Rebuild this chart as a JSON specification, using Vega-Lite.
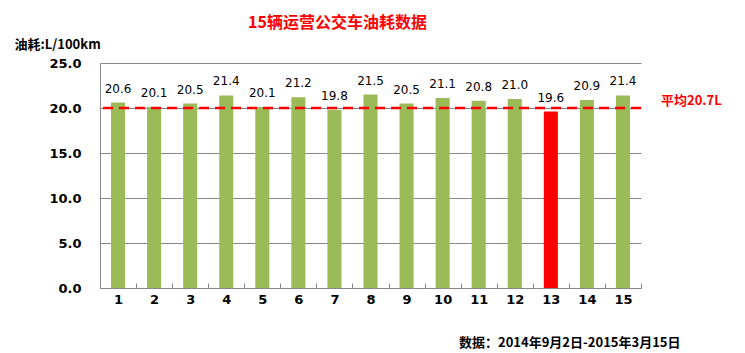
{
  "$schema": "https://vega.github.io/schema/vega-lite/v6.json",
  "width": 541,
  "height": 225,
  "autosize": {"type": "none"},
  "padding": {"left": 100, "top": 63, "right": 104, "bottom": 65},
  "background": "white",
  "title": {
    "text": "15辆运营公交车油耗数据",
    "color": "#FF0000",
    "font": "Noto Sans CJK SC",
    "fontSize": 16,
    "fontWeight": "bold",
    "anchor": "start",
    "dx": 234,
    "offset": 7
  },
  "config": {
    "view": {"stroke": null},
    "font": "DejaVu Sans"
  },
  "data": {
    "values": [
      {"bus": "1", "fuel": 20.6, "type": "normal"},
      {"bus": "2", "fuel": 20.1, "type": "normal"},
      {"bus": "3", "fuel": 20.5, "type": "normal"},
      {"bus": "4", "fuel": 21.4, "type": "normal"},
      {"bus": "5", "fuel": 20.1, "type": "normal"},
      {"bus": "6", "fuel": 21.2, "type": "normal"},
      {"bus": "7", "fuel": 19.8, "type": "normal"},
      {"bus": "8", "fuel": 21.5, "type": "normal"},
      {"bus": "9", "fuel": 20.5, "type": "normal"},
      {"bus": "10", "fuel": 21.1, "type": "normal"},
      {"bus": "11", "fuel": 20.8, "type": "normal"},
      {"bus": "12", "fuel": 21.0, "type": "normal"},
      {"bus": "13", "fuel": 19.6, "type": "low"},
      {"bus": "14", "fuel": 20.9, "type": "normal"},
      {"bus": "15", "fuel": 21.4, "type": "normal"}
    ]
  },
  "encoding": {
    "x": {
      "field": "bus",
      "type": "ordinal",
      "sort": null,
      "scale": {"paddingInner": 0, "paddingOuter": 0},
      "axis": {
        "title": "数据：2014年9月2日-2015年3月15日",
        "titleFont": "Noto Sans CJK SC",
        "titleFontSize": 13,
        "titleFontWeight": "bold",
        "titleColor": "#000000",
        "titleAlign": "right",
        "titleAnchor": null,
        "titleX": 580,
        "titleY": 58,
        "titleBaseline": "alphabetic",
        "labelAngle": 0,
        "labelFontSize": 13,
        "labelFontWeight": "bold",
        "labelColor": "#000000",
        "labelPadding": 10,
        "domainColor": "#888888",
        "tickColor": "#888888",
        "tickBand": "extent",
        "tickSize": -5
      }
    },
    "y": {
      "field": "fuel",
      "type": "quantitative",
      "scale": {"domain": [0, 25]},
      "axis": {
        "values": [0, 5, 10, 15, 20, 25],
        "format": ".1f",
        "title": "油耗:L/100km",
        "titleFont": "Noto Sans CJK SC",
        "titleFontSize": 13,
        "titleFontWeight": "bold",
        "titleColor": "#000000",
        "titleAngle": 0,
        "titleAlign": "left",
        "titleBaseline": "middle",
        "titleX": -86,
        "titleY": -19,
        "labelFontSize": 13,
        "labelFontWeight": "bold",
        "labelColor": "#000000",
        "labelPadding": 19,
        "ticks": false,
        "domainColor": "#888888",
        "gridColor": "#888888",
        "gridOpacity": 1
      }
    }
  },
  "layer": [
    {
      "mark": {"type": "bar", "width": {"band": 0.39}},
      "encoding": {
        "color": {
          "field": "type",
          "type": "nominal",
          "scale": {"domain": ["normal", "low"], "range": ["#9BBB59", "#FF0000"]},
          "legend": null
        }
      }
    },
    {
      "mark": {"type": "text", "baseline": "bottom", "dy": -7, "fontSize": 12, "color": "#000000"},
      "encoding": {
        "text": {"field": "fuel", "type": "quantitative", "format": ".1f"}
      }
    },
    {
      "data": {"values": [{"line": 20.0, "label": "平均20.7L"}]},
      "layer": [
        {
          "mark": {"type": "rule", "color": "#FF0000", "strokeWidth": 2.5, "strokeDash": [10, 6]},
          "encoding": {"x": null, "y": {"field": "line", "type": "quantitative"}}
        },
        {
          "mark": {"type": "text", "align": "left", "baseline": "middle", "dx": 38, "dy": -7, "font": "Noto Sans CJK SC", "fontSize": 13, "fontWeight": "bold", "color": "#FF0000"},
          "encoding": {
            "x": {"datum": "15", "type": "ordinal"},
            "y": {"field": "line", "type": "quantitative"},
            "text": {"field": "label"}
          }
        }
      ]
    }
  ]
}
